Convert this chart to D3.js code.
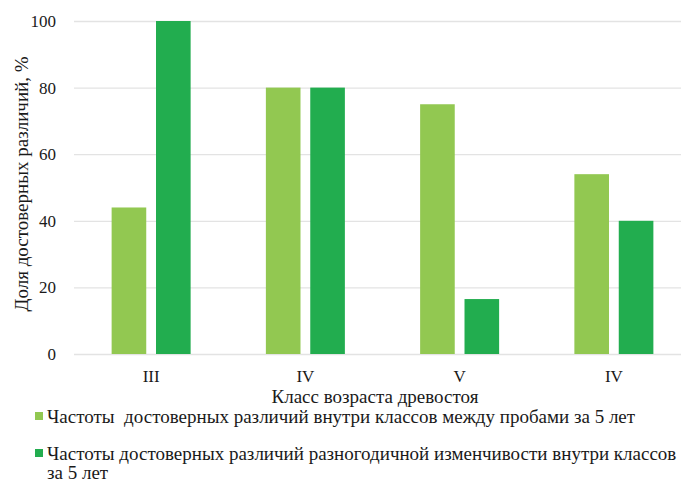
<!DOCTYPE html>
<html>
<head>
<meta charset="utf-8">
<script src="https://cdn.jsdelivr.net/npm/d3@7"></script>
<style>
  body { margin: 0; background: #fff; }
  .grid line { stroke: #e3e3e3; stroke-width: 1.3; }
  .grid path { display: none; }
</style>
</head>
<body>
<svg class="chart" width="681" height="482"></svg>
<script>
const categories = ["III", "IV", "V", "IV "];
const seriesNames = [
  "Частоты  достоверных различий внутри классов между пробами за 5 лет",
  "Частоты достоверных различий разногодичной изменчивости внутри классов за 5 лет"
];
const seriesA = [44, 80, 75, 54];
const seriesB = [100, 80, 16.5, 40];
const yTicks = [0, 20, 40, 60, 80, 100];
const colors = ["#92c851", "#22ad4f"];

const fontFam = '"Liberation Serif"';
const svg = d3.select(".chart");
const plotLeft = 74, plotRight = 691, plotTop = 21, plotBottom = 354;

const xScale = d3.scaleBand().domain(categories).range([plotLeft, plotRight]);
const inner = d3.scaleBand().domain([0, 1]).range([0, 79]).paddingInner(0.22);
const yScale = d3.scaleLinear().domain([0, 100]).range([plotBottom, plotTop]);

function label(sel, size) {
  return sel.style("font-family", fontFam)
    .style("font-size", size + "px")
    .attr("fill", "#1a1a1a");
}

// grid
svg.append("g")
  .attr("class", "grid")
  .attr("transform", `translate(${plotLeft},0)`)
  .call(d3.axisLeft(yScale).tickValues(yTicks).tickSize(-(plotRight - plotLeft)).tickFormat(""));

// y tick labels
svg.append("g")
  .selectAll("text")
  .data(yTicks)
  .enter()
  .append("text")
  .attr("x", 56)
  .attr("y", d => yScale(d) + 6)
  .attr("text-anchor", "end")
  .call(label, 17)
  .text(d => d);

// bars
const data = categories.map((c, i) => ({ cat: c, vals: [seriesA[i], seriesB[i]] }));
const groups = svg.append("g")
  .selectAll("g")
  .data(data)
  .enter()
  .append("g")
  .attr("transform", d => `translate(${xScale(d.cat) + (xScale.bandwidth() - 79) / 2},0)`);

groups.selectAll("rect")
  .data(d => d.vals.map((v, j) => ({ v, j })))
  .enter()
  .append("rect")
  .attr("x", d => inner(d.j))
  .attr("width", inner.bandwidth())
  .attr("y", d => yScale(d.v))
  .attr("height", d => yScale(0) - yScale(d.v))
  .attr("fill", d => colors[d.j]);

// category labels
svg.append("g")
  .selectAll("text")
  .data(categories)
  .enter()
  .append("text")
  .attr("x", d => xScale(d) + xScale.bandwidth() / 2)
  .attr("y", 382)
  .attr("text-anchor", "middle")
  .call(label, 17)
  .text(d => d.trim());

// axis titles
svg.append("text")
  .attr("x", 375)
  .attr("y", 403)
  .attr("text-anchor", "middle")
  .call(label, 19)
  .text("Класс возраста древостоя");

svg.append("text")
  .attr("transform", "translate(28,184) rotate(-90)")
  .attr("text-anchor", "middle")
  .call(label, 19)
  .text("Доля достоверных различий, %");

// legend
const legendY = [423, 460];
seriesNames.forEach((name, i) => {
  svg.append("rect")
    .attr("x", 35)
    .attr("y", legendY[i] - 11)
    .attr("width", 8)
    .attr("height", 8)
    .attr("fill", colors[i]);
  const t = svg.append("text")
    .attr("x", 47)
    .attr("y", legendY[i])
    .style("white-space", "pre")
    .call(label, 19);
  if (i === 0) {
    t.text(name);
  } else {
    t.append("tspan").attr("x", 47).text("Частоты достоверных различий разногодичной изменчивости внутри классов");
    t.append("tspan").attr("x", 47).attr("dy", 19).text("за 5 лет");
  }
});
</script>
</body>
</html>
